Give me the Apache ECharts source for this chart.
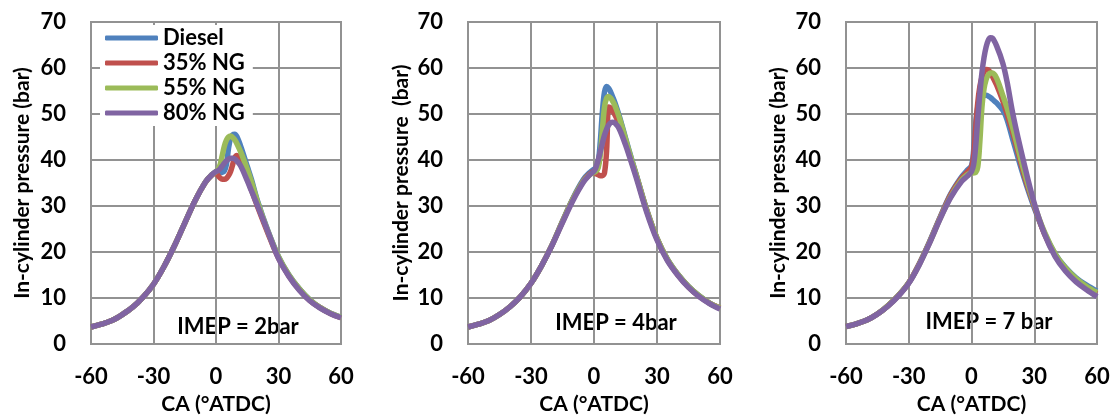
<!DOCTYPE html>
<html>
<head>
<meta charset="utf-8">
<script src="https://cdn.jsdelivr.net/npm/echarts@6/dist/echarts.min.js"></script>
<style>
html,body{margin:0;padding:0;background:#fff;}
#chart{width:1115px;height:416px;}
</style>
</head>
<body>
<div id="chart"></div>
<script>
// Crank angle sample points (°ATDC)
const ca = [-60,-55,-50,-45,-40,-35,-30,-25,-20,-15,-10,-5,-2,0,1,2,3,4,5,6,7,8,9,10,12,15,17,20,25,30,35,40,45,50,55,60];

const seriesNames = ['Diesel', '35% NG', '55% NG', '80% NG'];
const xTicks = [-60, -30, 0, 30, 60];
const yTicks = [0, 10, 20, 30, 40, 50, 60, 70];
const panelLabels = ['IMEP = 2bar', 'IMEP = 4bar', 'IMEP = 7 bar'];
const yTitles = ['In-cylinder pressure (bar)', 'In-cylinder pressure  (bar)', 'In-cylinder pressure (bar)'];
const xTitle = 'CA (°ATDC)';

// IMEP = 2 bar
const imep2_diesel = [3.7,4.3,5.1,6.4,8.0,10.2,13.0,16.8,21.3,26.3,31.2,35.3,36.8,37.4,37.4,37.3,37.3,37.6,39.0,42.5,44.8,45.5,45.6,45.1,42.8,38.6,35.8,31.0,24.5,19.0,15.0,12.0,9.6,7.9,6.7,5.8];
const imep2_ng35   = [3.7,4.3,5.1,6.4,8.0,10.2,13.0,16.8,21.3,26.3,31.2,35.2,36.7,37.1,36.6,36.1,35.8,35.8,36.0,36.6,37.5,39.0,40.5,41.0,39.8,36.0,33.5,29.8,24.0,18.7,14.8,11.8,9.5,7.9,6.6,5.7];
const imep2_ng55   = [3.7,4.3,5.1,6.4,8.0,10.2,13.0,16.8,21.3,26.3,31.2,35.2,36.8,37.5,38.0,39.0,41.0,43.0,44.3,45.0,45.2,44.9,44.4,43.6,41.6,38.0,35.3,30.8,24.4,19.0,15.0,12.0,9.6,7.9,6.7,5.8];
const imep2_ng80   = [3.7,4.3,5.1,6.4,8.0,10.2,13.0,16.8,21.3,26.3,31.2,35.2,36.8,37.5,37.7,38.1,38.7,39.3,39.8,40.2,40.4,40.4,40.2,39.8,38.6,35.5,33.3,30.0,24.3,18.6,14.7,11.7,9.4,7.8,6.6,5.7];

// IMEP = 4 bar
const imep4_diesel = [3.7,4.3,5.1,6.4,8.1,10.3,13.2,17.0,21.5,26.7,31.7,35.8,37.3,38.0,38.3,39.5,44.0,50.5,54.8,56.0,55.6,54.7,53.6,52.4,49.6,44.8,41.6,37.0,29.3,23.0,18.4,15.1,12.5,10.5,8.9,7.8];
const imep4_ng35   = [3.7,4.3,5.1,6.4,8.1,10.3,13.2,17.0,21.5,26.6,31.5,35.5,37.0,37.5,37.0,36.8,36.6,36.6,37.2,42.0,51.5,51.3,50.6,49.8,47.8,44.0,41.0,36.8,29.2,22.9,18.3,15.0,12.4,10.4,8.9,7.8];
const imep4_ng55   = [3.7,4.3,5.1,6.4,8.1,10.3,13.2,17.0,21.5,26.6,31.5,35.4,36.8,37.3,37.6,38.3,41.0,46.5,51.5,53.4,53.8,53.4,52.7,51.8,49.3,44.6,41.4,36.9,29.2,23.0,18.4,15.1,12.5,10.5,8.9,7.8];
const imep4_ng80   = [3.7,4.3,5.1,6.4,8.1,10.3,13.2,17.0,21.4,26.4,31.2,35.2,36.8,37.6,38.5,40.0,41.8,43.7,45.4,46.7,47.6,48.1,48.2,48.0,46.8,43.3,40.6,36.3,28.8,22.6,18.1,14.9,12.3,10.3,8.8,7.6];

// IMEP = 7 bar
const imep7_diesel = [3.8,4.4,5.2,6.5,8.3,10.5,13.3,17.4,22.3,27.6,32.6,36.2,37.8,38.8,42.0,48.0,51.5,53.0,53.8,54.1,54.1,53.9,53.6,53.2,52.4,50.8,48.8,44.0,36.3,29.6,24.0,19.6,16.6,14.4,12.8,11.5];
const imep7_ng35   = [3.8,4.4,5.2,6.5,8.3,10.5,13.3,17.4,22.2,27.5,32.4,35.9,37.4,38.5,41.0,47.0,52.5,56.0,58.0,59.2,59.7,59.6,59.0,58.2,56.3,52.8,50.0,45.5,37.0,30.0,23.8,19.3,16.2,14.0,12.3,11.0];
const imep7_ng55   = [3.8,4.4,5.2,6.5,8.3,10.5,13.3,17.3,22.1,27.3,32.0,35.5,36.8,37.3,37.2,37.3,38.5,44.0,51.5,55.5,57.5,58.5,58.9,58.9,57.8,54.0,51.3,46.5,37.8,30.3,24.2,19.6,16.5,14.2,12.5,11.2];
const imep7_ng80   = [3.8,4.4,5.2,6.5,8.2,10.4,13.2,17.2,22.0,27.2,31.8,35.2,36.5,37.5,39.0,43.0,49.0,54.5,59.0,62.3,64.6,66.0,66.6,66.5,64.8,61.0,57.0,49.5,39.5,30.6,23.8,19.0,15.8,13.5,11.8,10.3];

const colors = ['#4F81BD', '#C0504D', '#9BBB59', '#8064A2'];
const panels = [
  [imep2_diesel, imep2_ng35, imep2_ng55, imep2_ng80],
  [imep4_diesel, imep4_ng35, imep4_ng55, imep4_ng80],
  [imep7_diesel, imep7_ng35, imep7_ng55, imep7_ng80]
];

const FONT = 'Lato';
const gridColor = '#929292';
const grids = [
  {left: 91, width: 250, top: 22, height: 322},
  {left: 468, width: 252, top: 22, height: 322},
  {left: 846, width: 251, top: 22, height: 322}
];
const yNameGaps = [58, 56, 57];
const labelPos = [[238, 327], [616, 323], [989, 322]];

const xAxes = [], yAxes = [], series = [], graphics = [];
grids.forEach((g, i) => {
  xAxes.push({
    type: 'value', gridIndex: i, min: xTicks[0], max: xTicks[xTicks.length - 1], interval: 30,
    axisLine: {show: true, onZero: false, lineStyle: {color: gridColor, width: 2}},
    axisTick: {show: false},
    splitLine: {show: true, lineStyle: {color: gridColor, width: 2}},
    axisLabel: {color: '#000', fontFamily: FONT, fontWeight: 'bold', fontSize: 22, margin: 22},
    name: xTitle, nameLocation: 'middle', nameGap: 50,
    nameTextStyle: {color: '#000', fontFamily: FONT, fontWeight: 'bold', fontSize: 21}
  });
  yAxes.push({
    type: 'value', gridIndex: i, min: yTicks[0], max: yTicks[yTicks.length - 1], interval: 10,
    axisLine: {show: true, onZero: false, lineStyle: {color: gridColor, width: 2}},
    axisTick: {show: false},
    splitLine: {show: true, lineStyle: {color: gridColor, width: 2}},
    axisLabel: {color: '#000', fontFamily: FONT, fontWeight: 'bold', fontSize: 22, margin: 25},
    name: yTitles[i], nameLocation: 'middle', nameGap: yNameGaps[i], nameRotate: 90,
    nameTextStyle: {color: '#000', fontFamily: FONT, fontWeight: 'bold', fontSize: 21}
  });
  panels[i].forEach((vals, k) => {
    series.push({
      name: seriesNames[k], type: 'line', xAxisIndex: i, yAxisIndex: i,
      data: ca.map((x, j) => [x, vals[j]]),
      showSymbol: false, smooth: 0.35,
      lineStyle: {color: colors[k], width: 5.5},
      itemStyle: {color: colors[k]},
      emphasis: {disabled: true},
      clip: true
    });
  });
  graphics.push({
    type: 'text', x: labelPos[i][0], y: labelPos[i][1],
    style: {text: panelLabels[i], fill: '#000', font: 'bold 22px ' + FONT, textAlign: 'center', textVerticalAlign: 'middle'}
  });
});

const chart = echarts.init(document.getElementById('chart'), null, {renderer: 'canvas'});
chart.setOption({
  animation: false,
  backgroundColor: '#fff',
  grid: grids.map(g => Object.assign({show: true, borderColor: gridColor, borderWidth: 2, backgroundColor: 'transparent', outerBoundsMode: 'none', containLabel: false}, g)),
  xAxis: xAxes,
  yAxis: yAxes,
  legend: {
    data: seriesNames, orient: 'vertical', left: 100, top: 25,
    itemWidth: 53, itemHeight: 5, itemGap: 3, icon: 'roundRect',
    backgroundColor: '#fff', padding: [2, 8, 2, 5],
    textStyle: {color: '#000', fontFamily: FONT, fontWeight: 'bold', fontSize: 22}
  },
  series: series,
  graphic: graphics
});
</script>
</body>
</html>
